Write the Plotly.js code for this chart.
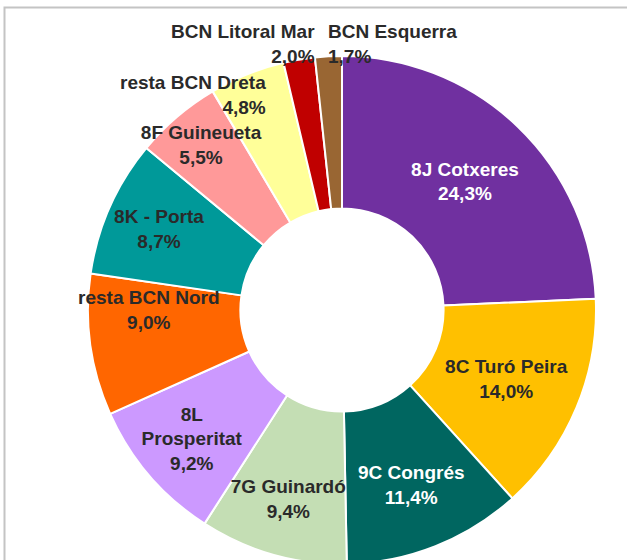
<!DOCTYPE html>
<html>
<head>
<meta charset="utf-8">
<script src="https://cdn.plot.ly/plotly-3.0.1.min.js"></script>
<style>
  html, body { margin: 0; padding: 0; background: #fff; overflow: hidden; }
  #plot { width: 627px; height: 600px; }
</style>
</head>
<body>
<div id="plot"></div>
<script>
// zones, clockwise from 12 o'clock
var zones = ['8J Cotxeres', '8C Turó Peira', '9C Congrés', '7G Guinardó', '8L<br>Prosperitat',
  'resta BCN Nord', '8K - Porta', '8F Guineueta', 'resta BCN Dreta', 'BCN Litoral Mar', 'BCN Esquerra'];
var shares = [24.3, 14.0, 11.4, 9.4, 9.2, 9.0, 8.7, 5.5, 4.8, 2.0, 1.7];
var colors = ['#7030A0', '#FFC000', '#006660', '#C4DEB4', '#CC99FF', '#FF6600',
  '#009999', '#FF9999', '#FFFF99', '#C00000', '#996633'];
var textColors = ['#ffffff', '#2a2a2a', '#ffffff', '#2a2a2a', '#2a2a2a', '#2a2a2a',
  '#2a2a2a', '#2a2a2a', '#2a2a2a', '#2a2a2a', '#2a2a2a'];
// the last three slices get their label as an annotation near the top edge
var textPos = ['inside', 'inside', 'inside', 'inside', 'inside', 'inside',
  'inside', 'inside', 'none', 'none', 'none'];

var W = 627, H = 600;
var cx = 342, cy = 310, R = 254;
var FONT = 'Liberation Sans, Arial, sans-serif';
var FS = 19;
var DARK = '#2a2a2a';
var dom = {
  x: [(cx - R) / W, (cx + R) / W],
  y: [(H - cy - R) / H, (H - cy + R) / H]
};

var ring = {
  type: 'pie',
  labels: zones,
  values: shares,
  sort: false,
  direction: 'clockwise',
  rotation: 0,
  hole: 0.40,
  marker: {colors: colors, line: {color: '#ffffff', width: 2}},
  textinfo: 'none',
  showlegend: false,
  domain: dom
};

// same ring again, transparent, carrying the labels so no slice hides them
var labelsRing = {
  type: 'pie',
  labels: zones,
  values: shares,
  sort: false,
  direction: 'clockwise',
  rotation: 0,
  hole: 0.40,
  marker: {colors: zones.map(function () { return 'rgba(0,0,0,0)'; }), line: {width: 0}},
  textposition: textPos,
  texttemplate: '%{label}<br>%{value:.1f}%',
  insidetextorientation: 'horizontal',
  textfont: {family: FONT, size: FS, weight: 'bold', color: textColors},
  showlegend: false,
  hoverinfo: 'skip',
  domain: dom
};

// point on the outer edge of the ring, at a fraction f through slice i
var total = shares.reduce(function (a, b) { return a + b; }, 0);
function edge(i, f) {
  var before = 0;
  for (var k = 0; k < i; k++) before += shares[k];
  var ang = (before + f * shares[i]) / total * 2 * Math.PI;
  return {x: (cx + R * Math.sin(ang)) / W, y: (H - cy + R * Math.cos(ang)) / H};
}
function fmt(v) { return v.toFixed(1).replace('.', ',') + '%'; }
var n = shares.length;
var meet = edge(n - 1, 0);      // where the two thin slices meet
var dreta = edge(n - 3, 0.5);

var layout = {
  width: W,
  height: H,
  margin: {l: 0, r: 0, t: 0, b: 0},
  paper_bgcolor: '#ffffff',
  separators: ', ',
  uniformtext: {mode: 'show', minsize: FS},
  font: {family: FONT},
  annotations: [
    {xref: 'paper', yref: 'paper', x: dreta.x, y: dreta.y, xanchor: 'right', yanchor: 'middle',
     xshift: 21, yshift: -21, align: 'right', showarrow: false,
     text: zones[n - 3] + '<br>' + fmt(shares[n - 3]),
     font: {family: FONT, size: FS, weight: 'bold', color: DARK}},
    {xref: 'paper', yref: 'paper', x: meet.x, y: meet.y, xanchor: 'right', yanchor: 'bottom',
     xshift: 2, yshift: -12, align: 'right', showarrow: false,
     text: zones[n - 2] + '<br>' + fmt(shares[n - 2]),
     font: {family: FONT, size: FS, weight: 'bold', color: DARK}},
    {xref: 'paper', yref: 'paper', x: meet.x, y: meet.y, xanchor: 'left', yanchor: 'bottom',
     xshift: 11, yshift: -12, align: 'left', showarrow: false,
     text: zones[n - 1] + '<br>' + fmt(shares[n - 1]),
     font: {family: FONT, size: FS, weight: 'bold', color: DARK}}
  ],
  shapes: [{
    type: 'rect', xref: 'paper', yref: 'paper',
    x0: 4.5 / W, x1: 1.05, y0: -0.1, y1: 1 - 7.5 / H,
    line: {color: '#c4c4c4', width: 2}
  }]
};

Plotly.newPlot('plot', [ring, labelsRing], layout, {displayModeBar: false, staticPlot: true});
</script>
</body>
</html>
